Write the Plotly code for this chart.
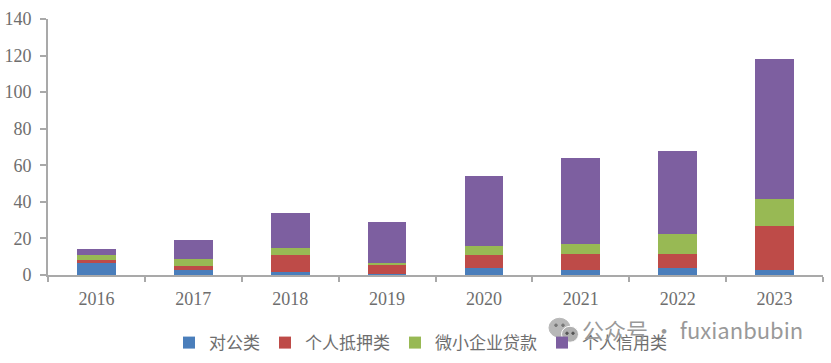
import plotly.graph_objects as go

years = ["2016", "2017", "2018", "2019", "2020", "2021", "2022", "2023"]
corporate = [6.5, 2.5, 1.5, 0.3, 3.6, 2.5, 3.6, 2.5]
mortgage = [1.5, 2.2, 9.5, 5.7, 7.4, 9.2, 8.1, 24.1]
small_biz = [3.0, 4.3, 4.0, 0.5, 5.0, 5.1, 10.9, 15.1]
credit = [3.0, 10.0, 19.0, 22.5, 38.0, 47.2, 45.4, 76.3]

names = ["对公类", "个人抵押类", "微小企业贷款", "个人信用类"]
colors = ["#4a7ebb", "#be4b48", "#98b954", "#7d5fa0"]
series = [corporate, mortgage, small_biz, credit]
yticks = [0, 20, 40, 60, 80, 100, 120, 140]
watermark = "公众号 · fuxianbubin"

W, H = 831, 363
L, R, T, B = 48, 8, 18.5, 88.3

def px(x):
    return (x - L) / (W - L - R)

def py(y):
    return 1 - (y - T) / (H - T - B)

fig = go.Figure()
for n, c, s in zip(names, colors, series):
    fig.add_bar(x=years, y=s, name=n, marker=dict(color=c, line=dict(width=0)))

axis_col = "#a9a9a9"
fig.update_layout(
    barmode="stack", bargap=0.6, width=W, height=H,
    margin=dict(l=L, r=R, t=T, b=B, autoexpand=False),
    paper_bgcolor="white", plot_bgcolor="white",
    font=dict(family="Liberation Serif", color="#6e6e6e", size=18),
    legend=dict(orientation="h", x=0.506, xanchor="center", xref="container", y=0.055, yanchor="middle", yref="container",
                font=dict(family="Noto Sans CJK SC", size=17, color="#6e6e6e"),
                itemwidth=30, traceorder="normal", bgcolor="rgba(0,0,0,0)"),
    xaxis=dict(type="category", tickson="boundaries", ticks="outside", ticklen=5, tickwidth=2,
               tickcolor=axis_col, showline=True, linecolor=axis_col, linewidth=2,
               showgrid=False, zeroline=False, range=[-0.5, 7.5], automargin=False, ticklabelstandoff=6),
    yaxis=dict(range=[0, 140], tickvals=yticks, ticks="outside", ticklen=6, tickwidth=2,
               tickcolor=axis_col, showline=True, linecolor=axis_col, linewidth=2,
               showgrid=False, zeroline=False, automargin=False, ticklabelstandoff=5),
    showlegend=True,
)
# WeChat-style watermark glyph
for cx, cy, rx, ry, fill, line in [
    (559.5, 327.5, 10.5, 9.5, "#b8b8b8", "#b8b8b8"),
    (570, 334, 8.5, 8, "#b0b0b0", "white"),
    (556, 325, 1.3, 1.3, "#777777", "#777777"),
    (563, 325, 1.3, 1.3, "#777777", "#777777"),
    (567, 333, 1.2, 1.2, "#555555", "#555555"),
    (573, 333, 1.2, 1.2, "#555555", "#555555"),
]:
    fig.add_shape(type="circle", xref="paper", yref="paper",
                  x0=px(cx - rx), x1=px(cx + rx), y0=py(cy + ry), y1=py(cy - ry),
                  fillcolor=fill, line=dict(color=line, width=1), layer="above")
fig.add_annotation(text=watermark, xref="paper", yref="paper", x=px(805), y=py(329),
                   xanchor="right", yanchor="middle", showarrow=False,
                   font=dict(family="Noto Sans CJK SC", size=22, color="#999999"))
fig.write_html("out.html", config={"displayModeBar": False}, post_script="document.body.style.margin='0';")
